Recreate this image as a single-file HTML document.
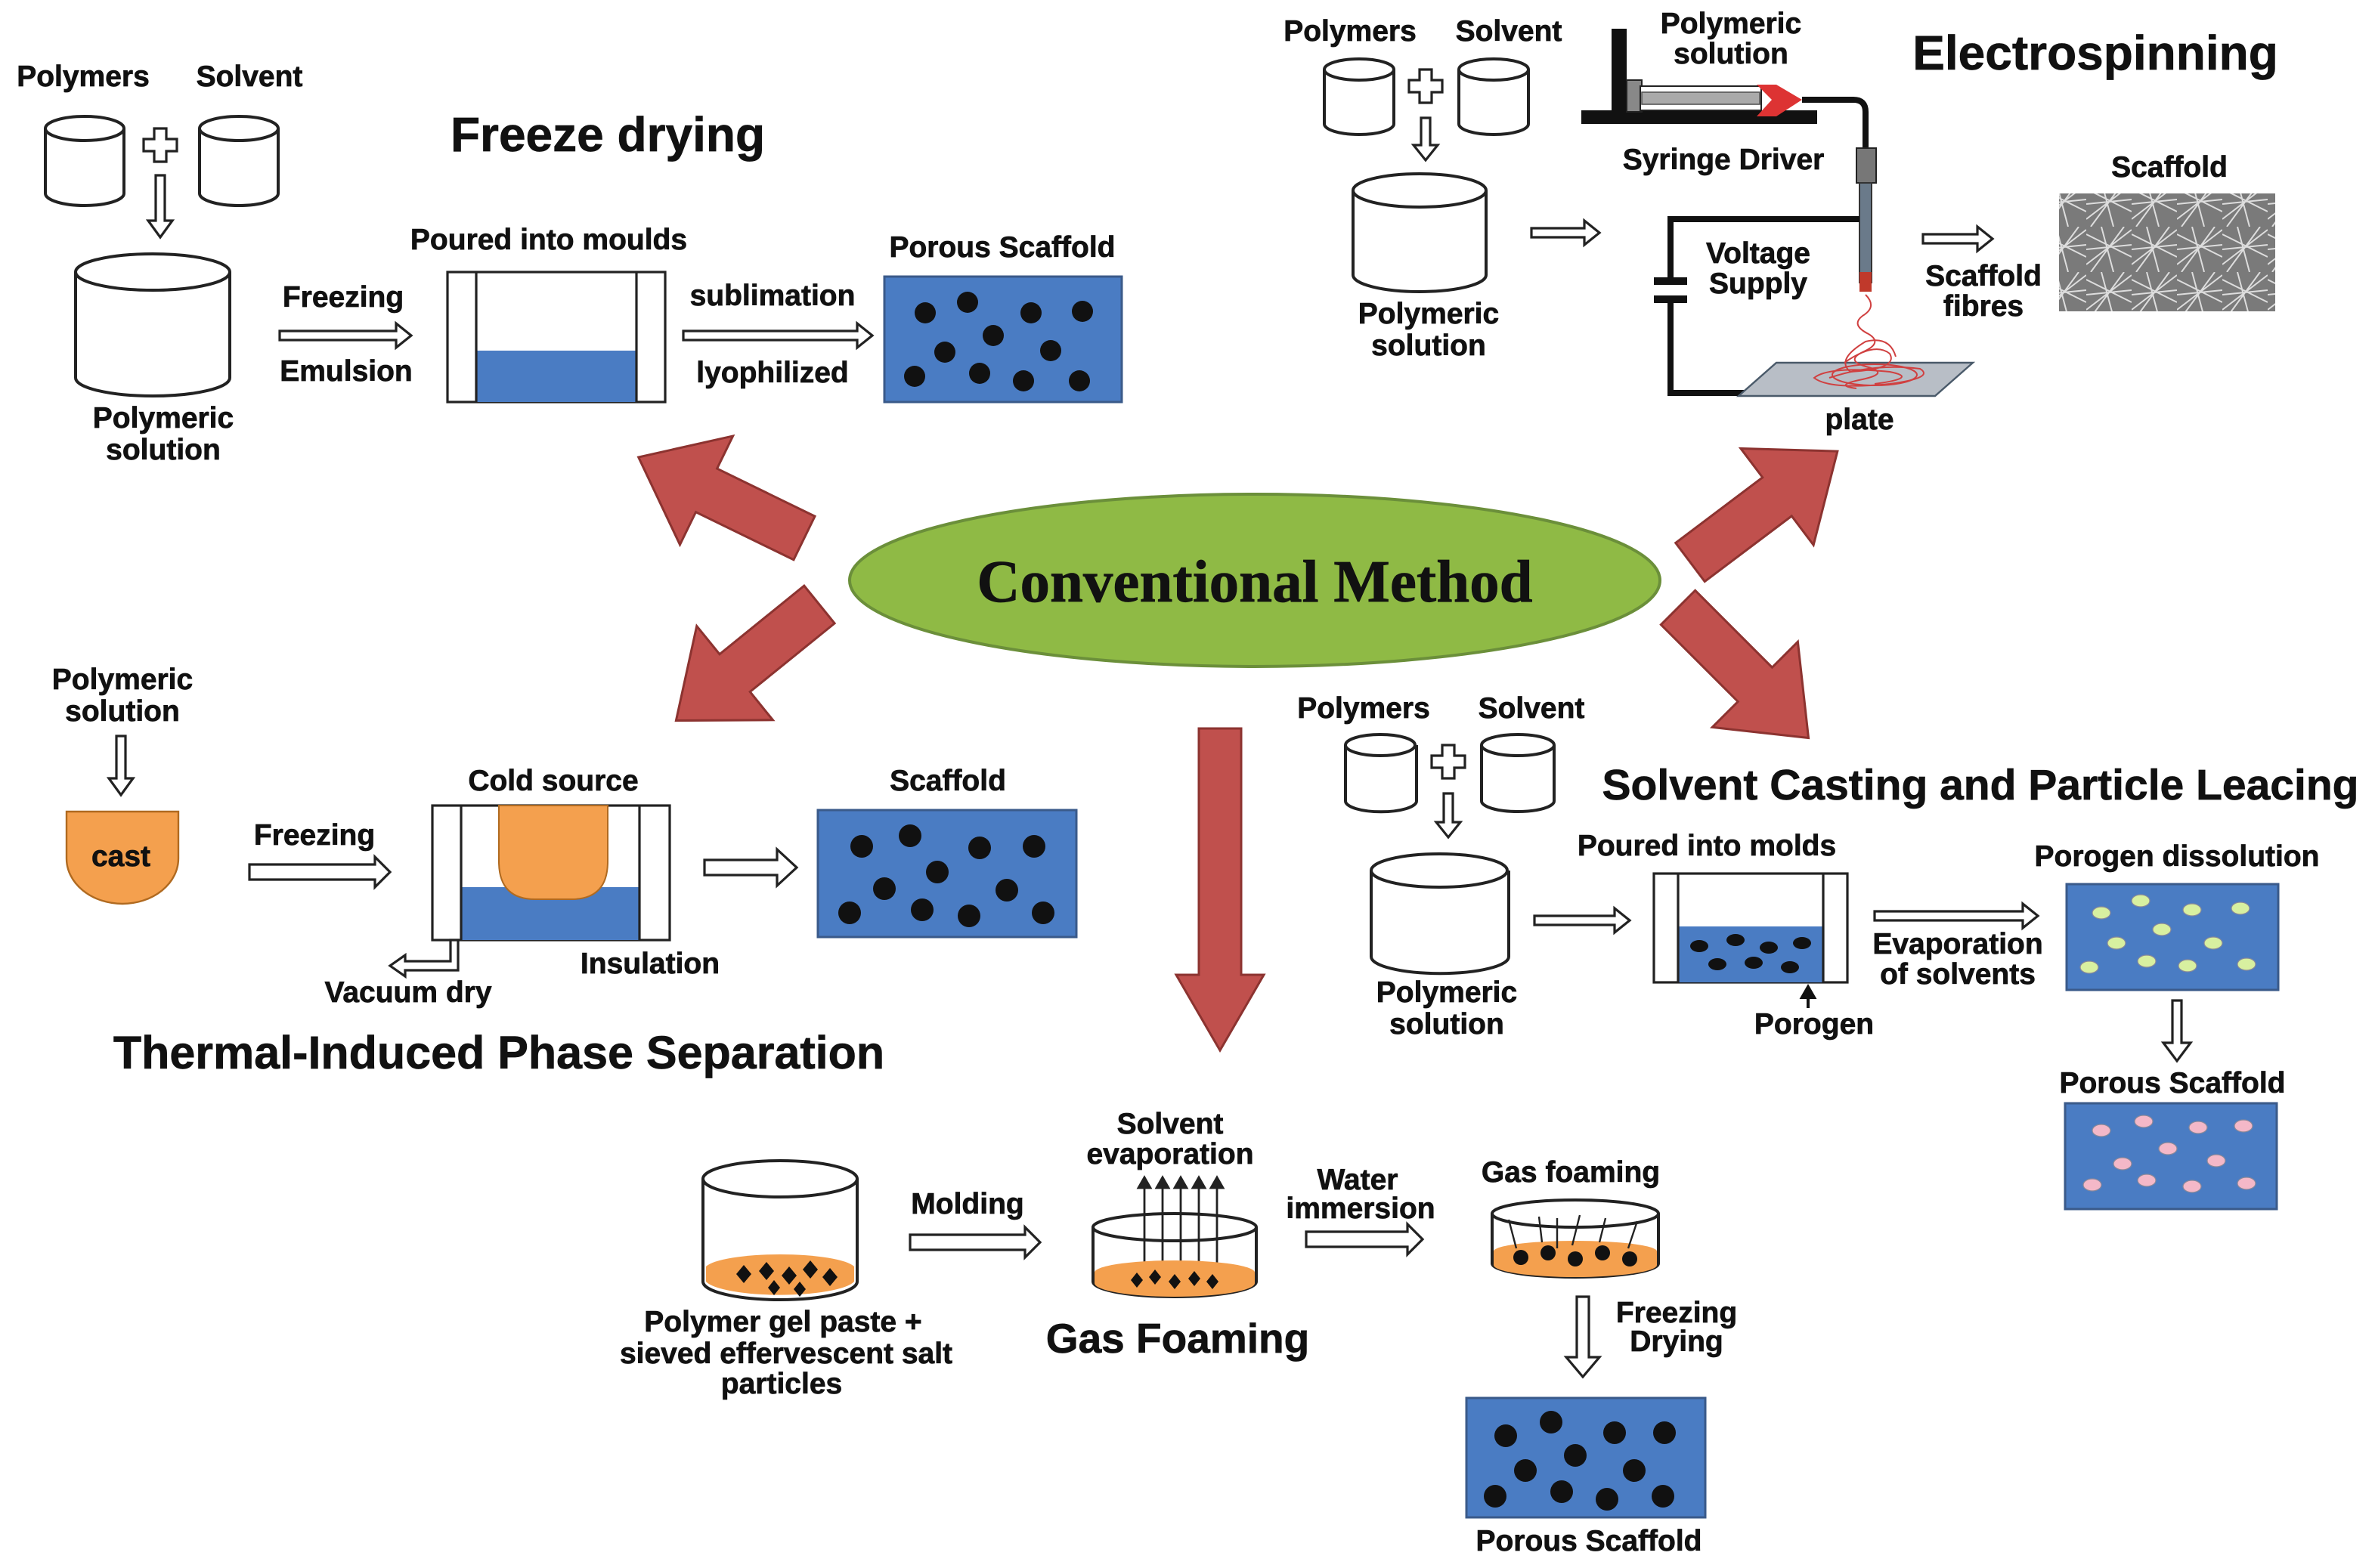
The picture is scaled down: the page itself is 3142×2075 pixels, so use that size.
<!DOCTYPE html>
<html><head><meta charset="utf-8"><style>
html,body{margin:0;padding:0;background:#fff}
svg{display:block}
text{font-family:"Liberation Sans",Arial,sans-serif;font-weight:bold;text-anchor:middle;fill:#111;stroke:#111;stroke-width:0.35}
.t{font-size:19.5px}
.ho{fill:#fff;stroke:#222;stroke-width:1.6}
.cy{fill:#fff;stroke:#222;stroke-width:2}
.bl{fill:#4a7cc3;stroke:#3a5a8a;stroke-width:1.5}
.ra{fill:#c0504d;stroke:#8c3330;stroke-width:1.5}
</style></head><body>
<svg width="3142" height="2075" viewBox="0 0 1571 1037.5" xmlns="http://www.w3.org/2000/svg">
<defs>
<polygon id="ra" class="ra" points="0,-16 72,-16 72,-40 122,0 72,40 72,16 0,16"/>
<g id="plus"><path d="M-4,-11 H4 V-4 H11 V4 H4 V11 H-4 V4 H-11 V-4 H-4 Z" fill="#fff" stroke="#222" stroke-width="1.6"/></g>
<pattern id="fib" width="30" height="30" patternUnits="userSpaceOnUse">
<rect width="30" height="30" fill="#7a7a7a"/>
<path d="M0,5 L30,20 M0,25 L30,2 M10,0 L18,30 M0,15 L30,12 M25,0 L3,30" stroke="#ddd" stroke-width="1" fill="none"/>
</pattern>
</defs>

<!-- ============ Freeze drying ============ -->
<text class="t" x="55" y="57">Polymers</text>
<text class="t" x="165" y="57">Solvent</text>
<g class="cy">
<path d="M30,85 V128 A26,8 0 0 0 82,128 V85"/><ellipse cx="56" cy="85" rx="26" ry="8"/>
<path d="M132,85 V128 A26,8 0 0 0 184,128 V85"/><ellipse cx="158" cy="85" rx="26" ry="8"/>
</g>
<use href="#plus" x="106" y="96"/>
<path class="ho" d="M103,116 V146 H98 L106,157 L114,146 H109 V116 Z"/>
<g class="cy"><path d="M50,180 V250 A51,12 0 0 0 152,250 V180"/><ellipse cx="101" cy="180" rx="51" ry="12"/></g>
<text class="t" x="108" y="283">Polymeric</text><text class="t" x="108" y="304">solution</text>
<text x="402" y="100" style="font-size:32px">Freeze drying</text>
<text class="t" x="227" y="203">Freezing</text>
<path class="ho" d="M185,219 H262 V214 L272,222 L262,230 V225 H185 Z"/>
<text class="t" x="229" y="252">Emulsion</text>
<text class="t" x="363" y="165">Poured into moulds</text>
<rect x="296" y="180" width="144" height="86" fill="#fff" stroke="#222" stroke-width="1.6"/>
<rect x="315" y="232" width="106" height="34" fill="#4a7cc3"/>
<line x1="315" y1="180" x2="315" y2="266" stroke="#222" stroke-width="1.6"/>
<line x1="421" y1="180" x2="421" y2="266" stroke="#222" stroke-width="1.6"/>
<text class="t" x="511" y="202">sublimation</text>
<path class="ho" d="M452,219 H567 V214 L577,222 L567,230 V225 H452 Z"/>
<text class="t" x="511" y="253">lyophilized</text>
<text class="t" x="663" y="170">Porous Scaffold</text>
<rect class="bl" x="585" y="183" width="157" height="83"/>
<g fill="#111">
<circle cx="612" cy="207" r="7"/><circle cx="640" cy="200" r="7"/><circle cx="682" cy="207" r="7"/><circle cx="716" cy="206" r="7"/>
<circle cx="657" cy="222" r="7"/><circle cx="625" cy="233" r="7"/><circle cx="695" cy="232" r="7"/>
<circle cx="605" cy="249" r="7"/><circle cx="648" cy="247" r="7"/><circle cx="677" cy="252" r="7"/><circle cx="714" cy="252" r="7"/>
</g>

<!-- ============ Electrospinning ============ -->
<text class="t" x="893" y="27">Polymers</text>
<text class="t" x="998" y="27">Solvent</text>
<g class="cy">
<path d="M876,46 V82 A23,7 0 0 0 922,82 V46"/><ellipse cx="899" cy="46" rx="23" ry="7"/>
<path d="M965,46 V82 A23,7 0 0 0 1011,82 V46"/><ellipse cx="988" cy="46" rx="23" ry="7"/>
</g>
<use href="#plus" x="943" y="57"/>
<path class="ho" d="M940,78 V96 H935 L943,106 L951,96 H946 V78 Z"/>
<g class="cy"><path d="M895,126 V182 A44,11 0 0 0 983,182 V126"/><ellipse cx="939" cy="126" rx="44" ry="11"/></g>
<text class="t" x="945" y="214">Polymeric</text><text class="t" x="945" y="235">solution</text>
<path class="ho" d="M1013,151 H1048 V146 L1058,154 L1048,162 V157 H1013 Z"/>
<text class="t" x="1145" y="22">Polymeric</text><text class="t" x="1145" y="42">solution</text>
<rect x="1046" y="73" width="156" height="9" fill="#111"/>
<rect x="1066" y="19" width="10" height="56" fill="#111"/>
<rect x="1076" y="53" width="10" height="21" fill="#888" stroke="#222"/>
<rect x="1085" y="57" width="80" height="16" fill="#fff" stroke="#222"/>
<rect x="1086" y="61" width="78" height="8" fill="#aaa" stroke="#555" stroke-width=".8"/>
<path d="M1162,56 L1175,56 L1192,66 L1175,77 L1162,77 L1172,66 Z" fill="#d33"/>
<path d="M1192,66 H1226 Q1234,66 1234,74 V100" fill="none" stroke="#111" stroke-width="4"/>
<text class="t" x="1140" y="112">Syringe Driver</text>
<rect x="1228" y="98" width="13" height="23" fill="#777" stroke="#222"/>
<rect x="1230" y="121" width="8" height="66" fill="#6a7a8a" stroke="#333"/>
<rect x="1230" y="180" width="8" height="13" fill="#c0392b"/>
<path d="M1230,145 H1105 V186 M1105,198 V260 H1160" fill="none" stroke="#111" stroke-width="4"/>
<path d="M1094,186 H1116 M1094,198 H1116" stroke="#111" stroke-width="5"/>
<text class="t" x="1163" y="174">Voltage</text><text class="t" x="1163" y="194">Supply</text>
<polygon points="1150,262 1175,240 1305,240 1280,262" fill="#b8bec6" stroke="#4a5a6a" stroke-width="1.2"/>
<g fill="none" stroke="#d04040" stroke-width="1">
<path d="M1234,195 q8,8 -2,14 q-8,6 4,12 q10,6 -4,12 q-12,6 4,10 q14,4 -4,8 q-20,4 -4,6"/>
<path d="M1210,250 q30,-10 60,-6 q10,6 -20,10 q-40,4 -50,-4 q10,-8 50,-4 q20,4 -10,8"/>
<path d="M1220,240 q20,-14 30,-6 q6,10 -26,12 q-10,-8 10,-20 q16,-4 20,10"/>
<ellipse cx="1240" cy="248" rx="28" ry="7"/>
</g>
<text class="t" x="1230" y="284">plate</text>
<path class="ho" d="M1272,155 H1308 V150 L1318,158 L1308,166 V161 H1272 Z"/>
<text class="t" x="1312" y="189">Scaffold</text><text class="t" x="1312" y="209">fibres</text>
<text class="t" x="1435" y="117">Scaffold</text>
<rect x="1362" y="128" width="143" height="78" fill="url(#fib)"/>
<text x="1386" y="46" style="font-size:32px">Electrospinning</text>

<!-- ============ Center ============ -->
<ellipse cx="830" cy="384" rx="268" ry="57" fill="#8fba45" stroke="#6b8f3a" stroke-width="2"/>
<text x="830" y="398" style="font-family:'Liberation Serif',serif;font-size:39.5px;fill:#111">Conventional Method</text>
<use href="#ra" transform="translate(532,356) rotate(206)"/>
<use href="#ra" transform="translate(542,400) rotate(141)"/>
<use href="#ra" transform="translate(1118,372) rotate(-37)"/>
<use href="#ra" transform="translate(1110,402) rotate(45)"/>
<polygon class="ra" points="793,482 821,482 821,645 836,645 807,695 778,645 793,645"/>

<!-- ============ TIPS ============ -->
<text class="t" x="81" y="456">Polymeric</text><text class="t" x="81" y="477">solution</text>
<path class="ho" d="M77,487 V515 H72 L80,526 L88,515 H83 V487 Z"/>
<path d="M44,537 H118 V568 A37,30 0 0 1 44,568 Z" fill="#f4a04e" stroke="#b06a20" stroke-width="1.2"/>
<text class="t" x="80" y="573">cast</text>
<text class="t" x="208" y="559">Freezing</text>
<path class="ho" d="M165,572 H248 V567 L258,577 L248,587 V582 H165 Z"/>
<text class="t" x="366" y="523">Cold source</text>
<rect x="286" y="533" width="157" height="89" fill="#fff" stroke="#222" stroke-width="1.6"/>
<rect x="305" y="587" width="118" height="35" fill="#4a7cc3"/>
<line x1="305" y1="533" x2="305" y2="622" stroke="#222" stroke-width="1.6"/>
<line x1="423" y1="533" x2="423" y2="622" stroke="#222" stroke-width="1.6"/>
<path d="M330,533 H402 V570 Q402,595 378,595 H354 Q330,595 330,570 Z" fill="#f4a04e" stroke="#b06a20" stroke-width="1"/>
<path class="ho" d="M298,622 V636 H268 V632 L258,639 L268,646 V642 H303 V622 Z"/>
<text class="t" x="270" y="663">Vacuum dry</text>
<text class="t" x="430" y="644">Insulation</text>
<path class="ho" d="M466,569 H514 V562 L527,574 L514,586 V579 H466 Z"/>
<text class="t" x="627" y="523">Scaffold</text>
<rect class="bl" x="541" y="536" width="171" height="84"/>
<g fill="#111">
<circle cx="570" cy="560" r="7.5"/><circle cx="602" cy="553" r="7.5"/><circle cx="648" cy="561" r="7.5"/><circle cx="684" cy="560" r="7.5"/>
<circle cx="620" cy="577" r="7.5"/><circle cx="585" cy="588" r="7.5"/><circle cx="666" cy="589" r="7.5"/>
<circle cx="562" cy="604" r="7.5"/><circle cx="610" cy="602" r="7.5"/><circle cx="641" cy="606" r="7.5"/><circle cx="690" cy="604" r="7.5"/>
</g>
<text x="330" y="707" style="font-size:30.5px">Thermal-Induced Phase Separation</text>

<!-- ============ Gas foaming ============ -->
<g class="cy"><path d="M465,780 V848 A51,12 0 0 0 567,848 V780"/><ellipse cx="516" cy="780" rx="51" ry="12"/></g>
<path d="M467,838 A50,10 0 0 1 565,838 V848 A50,11 0 0 1 467,848 Z" fill="#f4a04e"/>
<g fill="#111">
<path d="M487,843 l5,-6 l5,6 l-5,6z M502,841 l5,-6 l5,6 l-5,6z M517,844 l5,-6 l5,6 l-5,6z M531,840 l5,-6 l5,6 l-5,6z M544,845 l5,-6 l5,6 l-5,6z M508,852 l4,-5 l4,5 l-4,5z M525,853 l4,-5 l4,5 l-4,5z"/>
</g>
<text class="t" x="518" y="881">Polymer gel paste +</text>
<text class="t" x="520" y="902">sieved effervescent salt</text>
<text class="t" x="517" y="922">particles</text>
<text class="t" x="640" y="803">Molding</text>
<path class="ho" d="M602,817 H678 V812 L688,822 L678,832 V827 H602 Z"/>
<text class="t" x="774" y="750">Solvent</text><text class="t" x="774" y="770">evaporation</text>
<g stroke="#222" stroke-width="1.4" fill="#222">
<path d="M757,838 V782 M769,838 V782 M781,838 V782 M793,838 V782 M805,838 V782" fill="none"/>
<path d="M753,786 l4,-7 l4,7z M765,786 l4,-7 l4,7z M777,786 l4,-7 l4,7z M789,786 l4,-7 l4,7z M801,786 l4,-7 l4,7z"/>
</g>
<g class="cy"><path d="M723,812 V848 A54,10 0 0 0 831,848 V812" fill="none"/></g>
<path d="M724,842 A53,8 0 0 1 830,842 V849 A53,9 0 0 1 724,849 Z" fill="#f4a04e"/>
<ellipse cx="777" cy="812" rx="54" ry="9" fill="none" stroke="#222" stroke-width="2"/>
<g fill="#111"><path d="M748,847 l4,-5 l4,5 l-4,5z M760,845 l4,-5 l4,5 l-4,5z M773,848 l4,-5 l4,5 l-4,5z M786,846 l4,-5 l4,5 l-4,5z M798,848 l4,-5 l4,5 l-4,5z"/></g>
<text x="779" y="895" style="font-size:27.5px">Gas Foaming</text>
<text class="t" x="898" y="787">Water</text><text class="t" x="900" y="806">immersion</text>
<path class="ho" d="M864,815 H931 V810 L941,820 L931,830 V825 H864 Z"/>
<text class="t" x="1039" y="782">Gas foaming</text>
<path d="M987,803 V836 A55,9 0 0 0 1097,836 V803" fill="none" stroke="#222" stroke-width="2"/>
<path d="M988,828 A54,7 0 0 1 1096,828 V837 A54,8 0 0 1 988,837 Z" fill="#f4a04e"/>
<ellipse cx="1042" cy="803" rx="55" ry="9" fill="none" stroke="#222" stroke-width="2"/>
<g fill="#111"><circle cx="1006" cy="832" r="5"/><circle cx="1024" cy="829" r="5"/><circle cx="1042" cy="833" r="5"/><circle cx="1060" cy="829" r="5"/><circle cx="1078" cy="833" r="5"/></g>
<g stroke="#222" stroke-width="1.2" fill="none"><path d="M1003,826 L998,807 M1020,822 L1018,805 M1040,824 L1045,804 M1058,822 L1062,806 M1077,826 L1083,808 M1030,826 L1030,806"/></g>
<path class="ho" d="M1043,858 V898 H1036 L1047,911 L1058,898 H1051 V858 Z"/>
<text class="t" x="1109" y="875">Freezing</text><text class="t" x="1109" y="894">Drying</text>
<rect class="bl" x="970" y="925" width="158" height="79"/>
<g fill="#111">
<circle cx="996" cy="950" r="7.5"/><circle cx="1026" cy="941" r="7.5"/><circle cx="1068" cy="948" r="7.5"/><circle cx="1101" cy="948" r="7.5"/>
<circle cx="1042" cy="963" r="7.5"/><circle cx="1009" cy="973" r="7.5"/><circle cx="1081" cy="973" r="7.5"/>
<circle cx="989" cy="990" r="7.5"/><circle cx="1033" cy="987" r="7.5"/><circle cx="1063" cy="992" r="7.5"/><circle cx="1100" cy="990" r="7.5"/>
</g>
<text class="t" x="1051" y="1026">Porous Scaffold</text>

<!-- ============ Solvent casting ============ -->
<text class="t" x="902" y="475">Polymers</text>
<text class="t" x="1013" y="475">Solvent</text>
<g class="cy">
<path d="M890,493 V530 A23,7 0 0 0 937,530 V493"/><ellipse cx="913" cy="493" rx="23" ry="7"/>
<path d="M980,493 V530 A24,7 0 0 0 1028,530 V493"/><ellipse cx="1004" cy="493" rx="24" ry="7"/>
</g>
<use href="#plus" x="958" y="504"/>
<path class="ho" d="M955,525 V544 H950 L958,554 L966,544 H961 V525 Z"/>
<g class="cy"><path d="M907,576 V633 A45,11 0 0 0 998,633 V576"/><ellipse cx="952" cy="576" rx="45" ry="11"/></g>
<text class="t" x="957" y="663">Polymeric</text><text class="t" x="957" y="684">solution</text>
<text x="1310" y="529" style="font-size:28.5px">Solvent Casting and Particle Leacing</text>
<path class="ho" d="M1015,606 H1068 V601 L1078,609 L1068,617 V612 H1015 Z"/>
<text class="t" x="1129" y="566">Poured into molds</text>
<rect x="1094" y="578" width="128" height="72" fill="#fff" stroke="#222" stroke-width="1.6"/>
<rect x="1110" y="613" width="96" height="37" fill="#4a7cc3"/>
<line x1="1110" y1="578" x2="1110" y2="650" stroke="#222" stroke-width="1.6"/>
<line x1="1206" y1="578" x2="1206" y2="650" stroke="#222" stroke-width="1.6"/>
<g fill="#111">
<ellipse cx="1124" cy="626" rx="6" ry="4"/><ellipse cx="1148" cy="622" rx="6" ry="4"/><ellipse cx="1170" cy="627" rx="6" ry="4"/><ellipse cx="1192" cy="624" rx="6" ry="4"/>
<ellipse cx="1136" cy="638" rx="6" ry="4"/><ellipse cx="1160" cy="637" rx="6" ry="4"/><ellipse cx="1184" cy="640" rx="6" ry="4"/>
</g>
<path d="M1196,667 V657 M1192,660 L1196,653 L1200,660 Z" stroke="#111" stroke-width="2" fill="#111"/>
<text class="t" x="1200" y="684">Porogen</text>
<path class="ho" d="M1240,603 H1338 V598 L1348,606 L1338,614 V609 H1240 Z"/>
<text class="t" x="1295" y="631">Evaporation</text><text class="t" x="1295" y="651">of solvents</text>
<text class="t" x="1440" y="573">Porogen dissolution</text>
<rect class="bl" x="1367" y="585" width="140" height="70"/>
<g fill="#d8f0a0" stroke="#889" stroke-width=".6">
<ellipse cx="1390" cy="604" rx="6" ry="4"/><ellipse cx="1416" cy="596" rx="6" ry="4"/><ellipse cx="1450" cy="602" rx="6" ry="4"/><ellipse cx="1482" cy="601" rx="6" ry="4"/>
<ellipse cx="1430" cy="615" rx="6" ry="4"/><ellipse cx="1400" cy="624" rx="6" ry="4"/><ellipse cx="1464" cy="624" rx="6" ry="4"/>
<ellipse cx="1382" cy="640" rx="6" ry="4"/><ellipse cx="1420" cy="636" rx="6" ry="4"/><ellipse cx="1447" cy="639" rx="6" ry="4"/><ellipse cx="1486" cy="638" rx="6" ry="4"/>
</g>
<path class="ho" d="M1437,662 V690 H1431 L1440,702 L1449,690 H1443 V662 Z"/>
<text class="t" x="1437" y="723">Porous Scaffold</text>
<rect class="bl" x="1366" y="730" width="140" height="70"/>
<g fill="#f4b8c8" stroke="#889" stroke-width=".6">
<ellipse cx="1390" cy="748" rx="6" ry="4"/><ellipse cx="1418" cy="742" rx="6" ry="4"/><ellipse cx="1454" cy="746" rx="6" ry="4"/><ellipse cx="1484" cy="745" rx="6" ry="4"/>
<ellipse cx="1434" cy="760" rx="6" ry="4"/><ellipse cx="1404" cy="770" rx="6" ry="4"/><ellipse cx="1466" cy="768" rx="6" ry="4"/>
<ellipse cx="1384" cy="784" rx="6" ry="4"/><ellipse cx="1420" cy="781" rx="6" ry="4"/><ellipse cx="1450" cy="785" rx="6" ry="4"/><ellipse cx="1486" cy="783" rx="6" ry="4"/>
</g>
</svg>
</body></html>
